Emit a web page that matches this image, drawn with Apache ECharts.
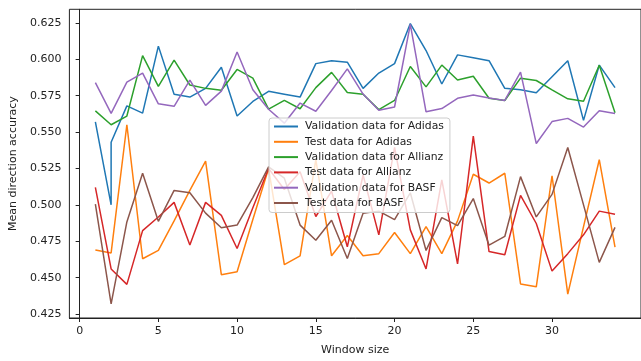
<!DOCTYPE html>
<html>
<head>
<meta charset="utf-8">
<title>Mean direction accuracy by window size</title>
<script src="https://cdn.jsdelivr.net/npm/echarts@6/dist/echarts.min.js"></script>
<style>
  html, body { margin: 0; padding: 0; background: #fff; }
  #chart { width: 641px; height: 361px; }
</style>
</head>
<body>
<div id="chart"></div>
<script>
// Window sizes evaluated (x values)
const windows = [1, 2, 3, 4, 5, 6, 7, 8, 9, 10, 11, 12, 13, 14, 15, 16, 17,
  18, 19, 20, 21, 22, 23, 24, 25, 26, 27, 28, 29, 30, 31, 32, 33, 34];
// The Adidas validation run reports window 2 twice
const windowsValAdidas = [1, 2, 2, 3, 4, 5, 6, 7, 8, 9, 10, 11, 12, 13, 14, 15, 16, 17,
  18, 19, 20, 21, 22, 23, 24, 25, 26, 27, 28, 29, 30, 31, 32, 33, 34];

const valAdidas = [0.557, 0.500, 0.543, 0.568, 0.563, 0.609, 0.576, 0.574, 0.580, 0.5945,
  0.561, 0.571, 0.578, 0.576, 0.574, 0.597, 0.599, 0.598, 0.580, 0.5905,
  0.597, 0.6245, 0.606, 0.583, 0.603, 0.601, 0.599, 0.580, 0.579, 0.577,
  0.588, 0.599, 0.558, 0.596, 0.5805];
const testAdidas = [0.469, 0.467, 0.555, 0.463, 0.4687, 0.489, 0.510, 0.530, 0.452, 0.454,
  0.490, 0.525, 0.459, 0.465, 0.531, 0.465, 0.479, 0.465, 0.4665, 0.481,
  0.4665, 0.485, 0.4665, 0.489, 0.521, 0.515, 0.5217, 0.4457, 0.4437, 0.520,
  0.4387, 0.485, 0.531, 0.471];
const valAllianz = [0.5645, 0.555, 0.561, 0.6025, 0.5814, 0.5994, 0.5823, 0.580, 0.5787, 0.593,
  0.587, 0.5657, 0.5717, 0.566, 0.5805, 0.591, 0.5772, 0.576, 0.5654, 0.5717,
  0.595, 0.581, 0.596, 0.5857, 0.5883, 0.5732, 0.5717, 0.587, 0.5854, 0.579,
  0.5728, 0.5712, 0.5959, 0.5632];
const testAllianz = [0.512, 0.456, 0.4454, 0.4823, 0.4917, 0.5017, 0.4725, 0.5017, 0.4928, 0.470,
  0.498, 0.525, 0.5105, 0.5227, 0.492, 0.5094, 0.4712, 0.5205, 0.4794, 0.5394,
  0.4828, 0.456, 0.5172, 0.4594, 0.5472, 0.4679, 0.4657, 0.5065, 0.4872, 0.4545,
  0.4665, 0.4794, 0.4957, 0.4935];
const valBASF = [0.5839, 0.5628, 0.5843, 0.5905, 0.5694, 0.5677, 0.5857, 0.5683, 0.5781, 0.605,
  0.579, 0.5657, 0.5561, 0.5699, 0.5643, 0.5785, 0.5934, 0.5761, 0.565, 0.5672,
  0.6239, 0.5639, 0.5661, 0.5732, 0.5754, 0.5734, 0.5717, 0.5912, 0.5421, 0.5572,
  0.5594, 0.5534, 0.5647, 0.5628];
const testBASF = [0.5005, 0.432, 0.4883, 0.5217, 0.4887, 0.5099, 0.5083, 0.4943, 0.4843, 0.4861,
  0.505, 0.5261, 0.5183, 0.4861, 0.4757, 0.4894, 0.4632, 0.4943, 0.4957, 0.4899,
  0.5083, 0.4687, 0.4912, 0.4857, 0.5043, 0.4723, 0.4783, 0.5194, 0.4917, 0.5072,
  0.5394, 0.500, 0.4605, 0.4845];

const xTicks = [0, 5, 10, 15, 20, 25, 30];
const yTicks = [0.425, 0.450, 0.475, 0.500, 0.525, 0.550, 0.575, 0.600, 0.625];

const seriesDefs = [
  { name: 'Validation data for Adidas', x: windowsValAdidas, y: valAdidas, color: '#1f77b4' },
  { name: 'Test data for Adidas', x: windows, y: testAdidas, color: '#ff7f0e' },
  { name: 'Validation data for Allianz', x: windows, y: valAllianz, color: '#2ca02c' },
  { name: 'Test data for Allianz', x: windows, y: testAllianz, color: '#d62728' },
  { name: 'Validation data for BASF', x: windows, y: valBASF, color: '#9467bd' },
  { name: 'Test data for BASF', x: windows, y: testBASF, color: '#8c564b' }
];

const FONT = 'DejaVu Sans';
const chart = echarts.init(document.getElementById('chart'), null, { renderer: 'canvas' });

chart.setOption({
  animation: false,
  backgroundColor: '#fff',
  color: seriesDefs.map(s => s.color),
  grid: {
    left: 67.3, top: 9.3, right: -8.5, bottom: 33.7,
    show: true, borderColor: '#222', borderWidth: 1, backgroundColor: 'transparent'
  },
  legend: {
    orient: 'vertical',
    left: 269, top: 118,
    padding: [3, 6, 4, 4],
    itemWidth: 24, itemHeight: 12, itemGap: 4.3,
    itemStyle: { opacity: 0 },
    backgroundColor: 'rgba(255,255,255,0.8)',
    borderColor: '#cccccc', borderWidth: 1, borderRadius: 3,
    textStyle: { fontFamily: FONT, fontSize: 10.8, color: '#222', padding: [0, 0, 0, 2] },
    data: seriesDefs.map(s => s.name)
  },
  xAxis: {
    type: 'value',
    min: -0.65, max: 35.65,
    name: 'Window size', nameLocation: 'middle', nameGap: 27,
    nameTextStyle: { fontFamily: FONT, fontSize: 11, color: '#222' },
    axisLine: { show: true, lineStyle: { color: '#222', width: 1 } },
    axisTick: { show: true, length: 4, lineStyle: { color: '#222' }, customValues: xTicks },
    axisLabel: { fontFamily: FONT, fontSize: 11, color: '#222', margin: 8, customValues: xTicks },
    splitLine: { show: false }
  },
  yAxis: {
    type: 'value',
    min: 0.4223, max: 0.6343,
    name: 'Mean direction accuracy', nameLocation: 'middle', nameGap: 37,
    nameTextStyle: { fontFamily: FONT, fontSize: 11, color: '#222' },
    axisLine: { show: true, lineStyle: { color: '#222', width: 1 } },
    axisTick: { show: true, length: 4, lineStyle: { color: '#222' }, customValues: yTicks },
    axisLabel: {
      fontFamily: FONT, fontSize: 11, color: '#222', margin: 8, customValues: yTicks,
      formatter: v => v.toFixed(3)
    },
    splitLine: { show: false }
  },
  series: seriesDefs.map(s => ({
    name: s.name,
    type: 'line',
    symbol: 'none',
    lineStyle: { width: 1.5, color: s.color },
    itemStyle: { color: s.color },
    data: s.x.map((w, i) => [w, s.y[i]])
  }))
});
</script>
</body>
</html>
